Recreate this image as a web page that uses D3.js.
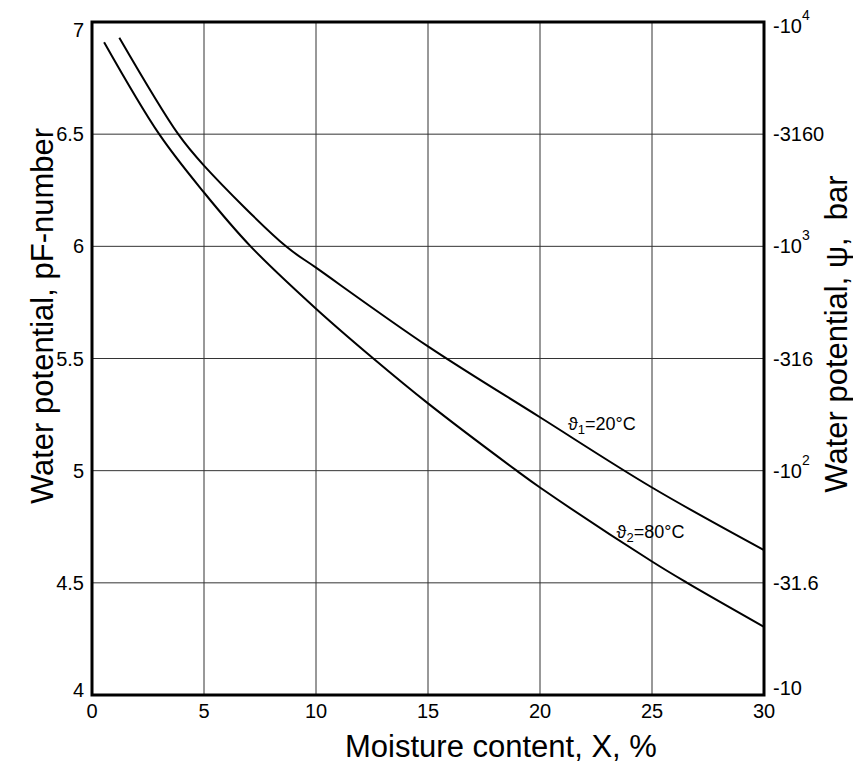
<!DOCTYPE html>
<html><head><meta charset="utf-8">
<script src="https://cdn.jsdelivr.net/npm/d3@7"></script>
<style>
body{margin:0;background:#fff;}
svg{font-family:"Liberation Sans",Arial,sans-serif;}
</style></head><body>
<svg id="c" width="853" height="763"></svg>
<script>
// Data
const curve20X = [1.22, 3.85, 5, 8.66, 10, 15, 20, 25, 30];
const curve20Y = [6.93, 6.50, 6.36, 6.00, 5.905, 5.554, 5.238, 4.925, 4.646];
const curve80X = [0.54, 3.0, 5, 7.08, 10, 12.56, 15, 18.96, 20, 25, 26.57, 30];
const curve80Y = [6.91, 6.50, 6.24, 6.00, 5.722, 5.50, 5.30, 5.00, 4.925, 4.595, 4.50, 4.304];
const xTicks = [0, 5, 10, 15, 20, 25, 30];
const yTicks = [4, 4.5, 5, 5.5, 6, 6.5, 7];
const yTickLabels = ["4", "4.5", "5", "5.5", "6", "6.5", "7"];
// right axis labels: [base, superscript]
const rightLabels = [["-10",""],["-31.6",""],["-10","2"],["-316",""],["-10","3"],["-3160",""],["-10","4"]];
const curveLabels = [{x:21.25, y:5.183, sub:"1", t:"=20°C"},{x:23.42, y:4.702, sub:"2", t:"=80°C"}];

const svg = d3.select("#c");
const L=92, T=22, R=764, B=695;
const x = d3.scaleLinear().domain([0,30]).range([L,R]);
const y = d3.scaleLinear().domain([4,7]).range([B,T]);

// grid
svg.append("g").selectAll("line").data(xTicks.slice(1,-1)).join("line")
  .attr("x1",d=>x(d)).attr("x2",d=>x(d)).attr("y1",T).attr("y2",B)
  .attr("stroke","#333").attr("stroke-width",1);
svg.append("g").selectAll("line").data(yTicks.slice(1,-1)).join("line")
  .attr("y1",d=>y(d)).attr("y2",d=>y(d)).attr("x1",L).attr("x2",R)
  .attr("stroke","#333").attr("stroke-width",1);

// curves
const line = d3.line().x(d=>x(d[0])).y(d=>y(d[1])).curve(d3.curveCatmullRom.alpha(0.5));
[[curve20X,curve20Y],[curve80X,curve80Y]].forEach(([xs,ys])=>{
  svg.append("path").datum(xs.map((v,i)=>[v,ys[i]])).attr("d",line)
    .attr("fill","none").attr("stroke","#000").attr("stroke-width",2);
});

// frame
svg.append("rect").attr("x",L).attr("y",T).attr("width",R-L).attr("height",B-T)
  .attr("fill","none").attr("stroke","#000").attr("stroke-width",3);

// x tick labels
svg.append("g").selectAll("text").data(xTicks).join("text")
  .attr("x",d=>x(d)).attr("y",B+23).attr("text-anchor","middle")
  .attr("font-size",20).text(d=>d);

// left y tick labels
const yOff = {7:8, 4:-5};
svg.append("g").selectAll("text").data(yTicks).join("text")
  .attr("x",L-8).attr("y",(d)=>y(d)+7+(yOff[d]||0)).attr("text-anchor","end")
  .attr("font-size",20).text((d,i)=>yTickLabels[i]);

// right labels
const rOff = {7:4, 4:-7};
const rg = svg.append("g");
yTicks.forEach((d,i)=>{
  const t = rg.append("text").attr("x",R+9).attr("y",y(d)+7+(rOff[d]||0)).attr("font-size",20);
  t.append("tspan").text(rightLabels[i][0]);
  if(rightLabels[i][1]) t.append("tspan").attr("dy",-13).attr("font-size",14).text(rightLabels[i][1]);
});

// curve labels
curveLabels.forEach(c=>{
  const t = svg.append("text").attr("x",x(c.x)).attr("y",y(c.y)).attr("font-size",18);
  t.append("tspan").text("\u03D1");
  t.append("tspan").attr("dy",4).attr("font-size",13).text(c.sub);
  t.append("tspan").attr("dy",-4).text(c.t);
});

// axis titles
svg.append("text").attr("x",345).attr("y",757).attr("text-anchor","start")
  .attr("font-size",31).text("Moisture content, X, %");
svg.append("text").attr("transform","translate(53,316) rotate(-90)").attr("text-anchor","middle")
  .attr("font-size",31).text("Water potential, pF-number");
svg.append("text").attr("transform","translate(847,334) rotate(-90)").attr("text-anchor","middle")
  .attr("font-size",31).style("white-space","pre").text("Water potential, \u03C8,  bar");
</script>
</body></html>
